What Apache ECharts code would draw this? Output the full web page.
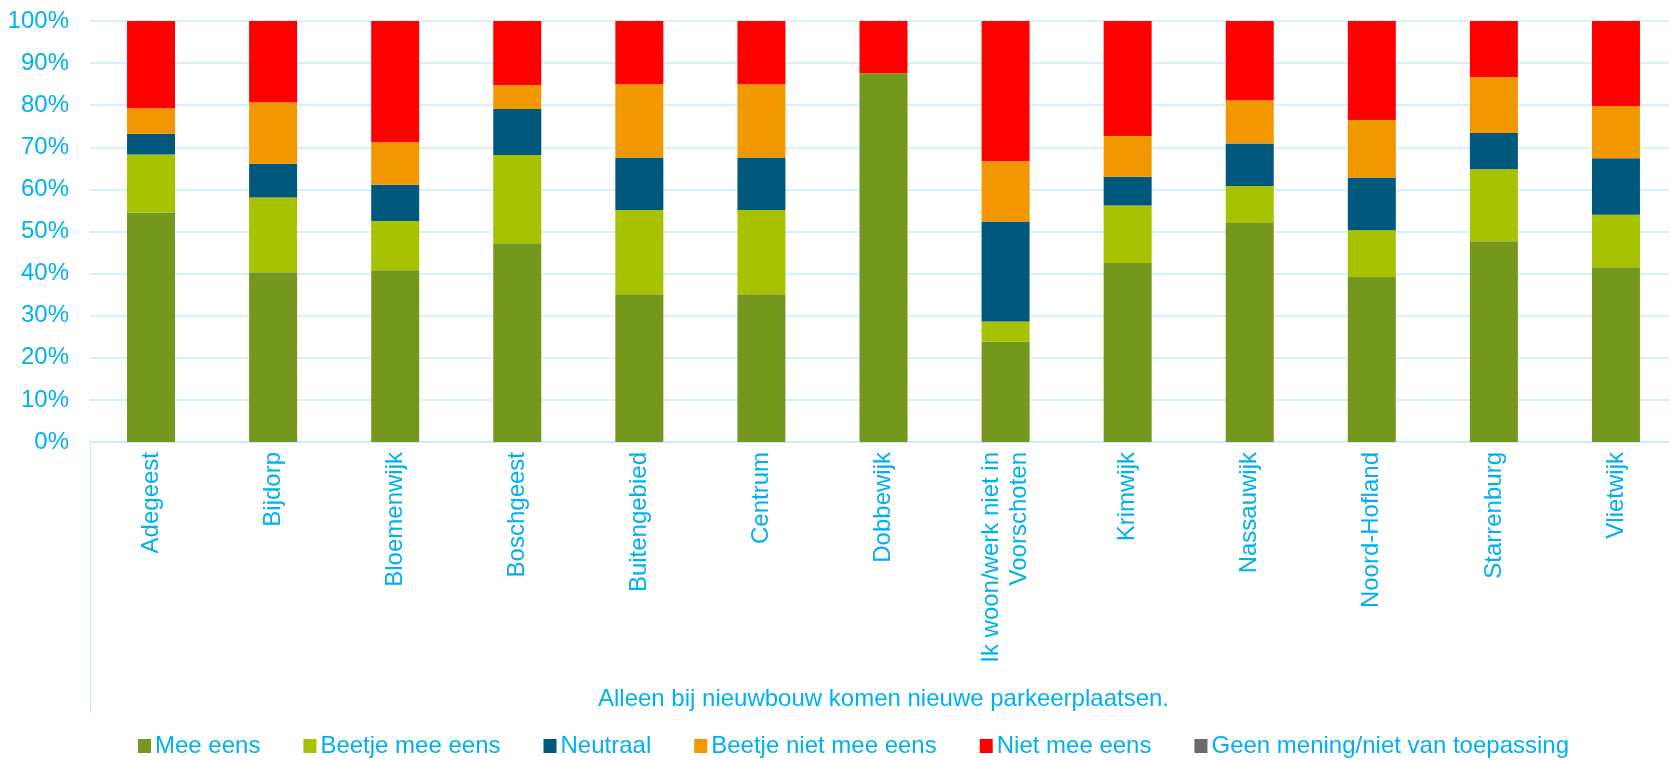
<!DOCTYPE html>
<html>
<head>
<meta charset="utf-8">
<script src="https://cdn.jsdelivr.net/npm/echarts@6/dist/echarts.min.js"></script>
<style>
  html, body { margin: 0; padding: 0; overflow: hidden; background: #fff; }
  #main { width: 1677px; height: 760px; }
</style>
</head>
<body>
<div id="main"></div>
<script>
var categories = ['Adegeest', 'Bijdorp', 'Bloemenwijk', 'Boschgeest', 'Buitengebied', 'Centrum',
  'Dobbewijk', 'Ik woon/werk niet in\nVoorschoten', 'Krimwijk', 'Nassauwijk', 'Noord-Hofland',
  'Starrenburg', 'Vlietwijk'];

var meeEens          = [54.5, 40.3, 40.8, 47.2, 35.1, 35.1, 87.6, 23.8, 42.5, 52.0, 39.2, 47.7, 41.5];
var beetjeMeeEens    = [13.8, 17.8, 11.7, 21.0, 20.0, 20.0, 0, 4.8, 13.7, 8.8, 11.1, 17.1, 12.5];
var neutraal         = [4.9, 8.0, 8.6, 10.9, 12.5, 12.5, 0, 23.8, 6.8, 10.1, 12.5, 8.6, 13.4];
var beetjeNietMee    = [6.1, 14.6, 10.1, 5.7, 17.4, 17.4, 0, 14.3, 9.7, 10.3, 13.7, 13.3, 12.4];
var nietMeeEens      = [20.7, 19.3, 28.8, 15.2, 15.0, 15.0, 12.4, 33.3, 27.3, 18.8, 23.5, 13.3, 20.2];
var geenMening       = [0, 0, 0, 0, 0, 0, 0, 0, 0, 0, 0, 0, 0];

var seriesNames = ['Mee eens', 'Beetje mee eens', 'Neutraal', 'Beetje niet mee eens', 'Niet mee eens',
  'Geen mening/niet van toepassing'];
var seriesData = [meeEens, beetjeMeeEens, neutraal, beetjeNietMee, nietMeeEens, geenMening];
var colors = ['#76971E', '#A7C200', '#00587C', '#F39700', '#FF0000', '#6A6A6A'];

var yTicks = { min: 0, max: 100, interval: 10 };

var blue = '#00B0F0';
var lineBlue = '#C9ECFB';
var font = 'Liberation Sans, Arial, sans-serif';

var myChart = echarts.init(document.getElementById('main'));

var series = [];
for (var i = 0; i < seriesNames.length; i++) {
  series.push({
    name: seriesNames[i],
    type: 'bar',
    stack: 'total',
    barWidth: 48,
    itemStyle: { color: colors[i] },
    data: seriesData[i]
  });
}

var option = {
  animation: false,
  color: colors,
  textStyle: { fontFamily: font },
  grid: {
    left: 90,
    right: 0,
    top: 21,
    bottom: 318
  },
  legend: {
    left: 133,
    top: 729,
    icon: 'rect',
    itemWidth: 13,
    itemHeight: 14,
    itemGap: 43,
    textStyle: { color: blue, fontSize: 24, fontFamily: font, padding: [0, 0, 0, -1] },
    data: seriesNames
  },
  xAxis: {
    type: 'category',
    data: categories,
    name: 'Alleen bij nieuwbouw komen nieuwe parkeerplaatsen.',
    nameLocation: 'middle',
    nameGap: 245,
    nameTextStyle: { color: blue, fontSize: 24, fontFamily: font },
    axisLine: { lineStyle: { color: lineBlue, width: 1.5 } },
    axisTick: { show: false },
    axisLabel: {
      rotate: 90,
      interval: 0,
      margin: 10,
      color: blue,
      fontSize: 24,
      fontFamily: font,
      lineHeight: 28
    }
  },
  yAxis: {
    type: 'value',
    min: yTicks.min,
    max: yTicks.max,
    interval: yTicks.interval,
    axisLine: { show: false },
    axisTick: { show: false },
    axisLabel: {
      formatter: '{value}%',
      color: blue,
      fontSize: 24,
      fontFamily: font,
      margin: 21
    },
    splitLine: { lineStyle: { color: lineBlue, width: 1.5 } }
  },
  // the thin line below the category axis on the left side
  graphic: [{
    type: 'line',
    shape: { x1: 90.5, y1: 442, x2: 90.5, y2: 713 },
    style: { stroke: lineBlue, lineWidth: 1 }
  }],
  series: series
};

option && myChart.setOption(option);
</script>
</body>
</html>
